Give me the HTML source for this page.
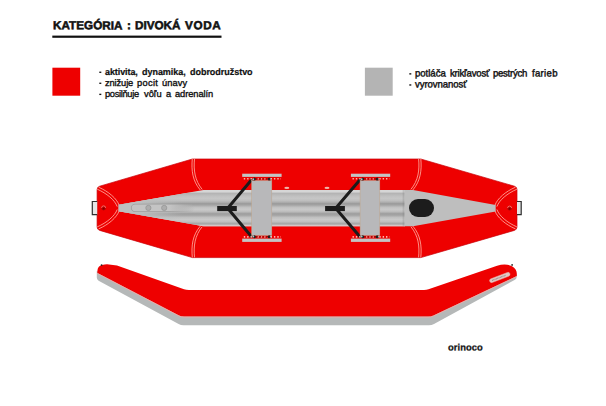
<!DOCTYPE html>
<html><head><meta charset="utf-8">
<style>
html,body{margin:0;padding:0;background:#fff;}
body{width:606px;height:406px;position:relative;overflow:hidden;font-family:"Liberation Sans",sans-serif;color:#111;}
.w{position:absolute;white-space:nowrap;line-height:1;transform-origin:0 84.65%;}
.r{font-size:9.3px;-webkit-text-stroke:0.35px #111;transform:rotate(0.03deg);}
.q{font-size:9.6px;-webkit-text-stroke:0.4px #111;transform:translateY(-0.45px) rotate(0.03deg) scaleY(1.045);}
.b{font-size:9px;font-weight:bold;-webkit-text-stroke:0.2px #111;transform:rotate(0.03deg) scaleY(1.03);}
.h{font-size:11.7px;font-weight:bold;-webkit-text-stroke:0.55px #111;transform:translateY(0.35px) rotate(0.03deg);}
.o{font-size:9.4px;font-weight:bold;-webkit-text-stroke:0.25px #111;transform:translateY(0.5px) rotate(0.03deg);}
svg{position:absolute;left:0;top:0;}
</style></head><body>
<span class="w h" style="left:52.55px;top:19.00px;letter-spacing:0.030px">KATEGÓRIA</span>
<span class="w h" style="left:127.35px;top:19.00px;letter-spacing:0.000px">:</span>
<span class="w h" style="left:135.15px;top:19.00px;letter-spacing:-0.013px">DIVOKÁ</span>
<span class="w h" style="left:185.05px;top:19.00px;letter-spacing:0.674px">VODA</span>
<span class="w o" style="left:448.20px;top:342.04px;letter-spacing:0.054px">orinoco</span>
<span class="w b" style="left:104.69px;top:68.18px;letter-spacing:-0.090px">aktivita,</span>
<span class="w b" style="left:142.19px;top:68.18px;letter-spacing:-0.040px">dynamika,</span>
<span class="w b" style="left:190.29px;top:68.18px;letter-spacing:-0.033px">dobrodružstvo</span>
<span class="w r" style="left:104.76px;top:78.93px;letter-spacing:-0.111px">znižuje</span>
<span class="w r" style="left:136.96px;top:78.93px;letter-spacing:0.312px">pocit</span>
<span class="w r" style="left:162.06px;top:78.93px;letter-spacing:0.069px">únavy</span>
<span class="w r" style="left:104.76px;top:90.03px;letter-spacing:-0.327px">posilňuje</span>
<span class="w r" style="left:143.56px;top:90.03px;letter-spacing:-0.005px">vôľu</span>
<span class="w r" style="left:166.06px;top:90.03px;letter-spacing:0.000px">a</span>
<span class="w r" style="left:174.76px;top:90.03px;letter-spacing:-0.062px">adrenalín</span>
<span class="w q" style="left:414.57px;top:69.27px;letter-spacing:-0.029px">potláča</span>
<span class="w q" style="left:449.67px;top:69.27px;letter-spacing:-0.226px">krikľavosť</span>
<span class="w q" style="left:493.17px;top:69.27px;letter-spacing:-0.286px">pestrých</span>
<span class="w q" style="left:532.07px;top:69.27px;letter-spacing:0.293px">farieb</span>
<span class="w q" style="left:414.57px;top:80.37px;letter-spacing:-0.071px">vyrovnanosť</span>
<svg width="606" height="406" viewBox="0 0 606 406">
<defs>
<linearGradient id="tube" x1="0" y1="0" x2="0" y2="1">
<stop offset="0" stop-color="#909090"/><stop offset="0.1" stop-color="#a6a6a6"/><stop offset="0.3" stop-color="#c0c0c0"/><stop offset="0.5" stop-color="#c9c9c9"/><stop offset="0.7" stop-color="#c0c0c0"/><stop offset="0.9" stop-color="#a6a6a6"/><stop offset="1" stop-color="#909090"/>
</linearGradient>
<linearGradient id="tube1" x1="0" y1="0" x2="0" y2="1">
<stop offset="0" stop-color="#b0b0b0"/><stop offset="0.3" stop-color="#c0c0c0"/><stop offset="0.5" stop-color="#c6c6c6"/><stop offset="0.7" stop-color="#bebebe"/><stop offset="0.9" stop-color="#a6a6a6"/><stop offset="1" stop-color="#909090"/>
</linearGradient>
<linearGradient id="nosefade" x1="0" y1="0" x2="1" y2="0"><stop offset="0" stop-color="#bdbfbf"/><stop offset="0.3" stop-color="#bdbfbf"/><stop offset="0.8" stop-color="#bdbfbf" stop-opacity="0"/></linearGradient>
<linearGradient id="innerfade" x1="0" y1="0" x2="1" y2="0"><stop offset="0" stop-color="#c4c4c4"/><stop offset="0.6" stop-color="#c4c4c4"/><stop offset="1" stop-color="#c4c4c4" stop-opacity="0"/></linearGradient>
<linearGradient id="innershade" x1="0" y1="0" x2="1" y2="0"><stop offset="0" stop-color="#9c9c9c"/><stop offset="0.6" stop-color="#9c9c9c"/><stop offset="1" stop-color="#9c9c9c" stop-opacity="0"/></linearGradient>
<clipPath id="floor">
<path d="M118.7,204.8 L203.5,189.9 L413,189.9 L495.7,204.9 L495.7,211.4 L413,226.2 L203.5,226.2 L118.7,211.3 Z"/>
</clipPath>
</defs>
<!-- dashes -->
<rect x="52.3" y="35.6" width="169.2" height="2.2" fill="#111"/>
<rect x="52.4" y="67.7" width="27.8" height="28" fill="#ee0000"/>
<rect x="364.9" y="67.7" width="27.8" height="28" fill="#b4b4b4"/>
<g id="dashes">
<rect x="99.3" y="71.60" width="2.0" height="1.35" fill="#111"/>
<rect x="99.3" y="82.60" width="2.0" height="1.35" fill="#111"/>
<rect x="99.3" y="93.70" width="2.0" height="1.35" fill="#111"/>
<rect x="409.3" y="73.20" width="2.0" height="1.35" fill="#111"/>
<rect x="409.3" y="84.30" width="2.0" height="1.35" fill="#111"/>
</g>
<!-- top view hull -->
<path d="M97.1,189.6 Q97.1,186.9 99.7,186.2 L192.4,159 L420.8,159 L514.4,186.2 Q517,186.9 517,189.6 L517,226.9 Q517,229.6 514.4,230.4 L420.8,257.6 L192.4,257.6 L99.7,230.4 Q97.1,229.6 97.1,226.9 Z" fill="#ee0000" stroke="#c80008" stroke-width="0.7"/>
<!-- seams -->
<g fill="none" stroke="#ffaa9e" stroke-width="0.85">
<path d="M192.3,158.8 C191.2,170.0 192.5,181.0 200.3,190.0"/>
<path d="M192.3,257.3 C191.2,246.1 192.5,235.1 200.3,226.1"/>
<path d="M194.5,158.8 C193.4,170.0 194.8,180.5 202.2,189.4"/>
<path d="M194.5,257.3 C193.4,246.1 194.8,235.6 202.2,226.7"/>
<path d="M420.8,158.8 C421.9,170.0 420.6,181.0 412.8,190.0"/>
<path d="M420.8,257.3 C421.9,246.1 420.6,235.1 412.8,226.1"/>
<path d="M418.6,158.8 C419.7,170.0 418.3,180.5 410.9,189.4"/>
<path d="M418.6,257.3 C419.7,246.1 418.3,235.6 410.9,226.7"/>
<path d="M98.6,187.2 C108.5,191.5 116.8,198.5 119.2,205.4"/>
<path d="M98.6,228.9 C108.5,224.6 116.8,217.6 119.2,210.7"/>
<path d="M97.2,189.2 C106.8,193.4 114.8,200.0 117.2,206.6"/>
<path d="M97.2,226.9 C106.8,222.7 114.8,216.1 117.2,209.5"/>
<path d="M515.5,187.2 C505.6,191.5 497.3,198.5 494.9,205.4"/>
<path d="M515.5,228.9 C505.6,224.6 497.3,217.6 494.9,210.7"/>
<path d="M516.9,189.2 C507.3,193.4 499.3,200.0 496.9,206.6"/>
<path d="M516.9,226.9 C507.3,222.7 499.3,216.1 496.9,209.5"/>
</g>
<!-- floor -->
<g clip-path="url(#floor)">
<rect x="110" y="189" width="295" height="38" fill="#d6d6d6"/>
<rect x="110" y="192.6" width="295" height="11.6" fill="url(#tube1)"/>
<rect x="110" y="204.2" width="295" height="10.1" fill="url(#tube)"/>
<rect x="110" y="214.3" width="295" height="10.4" fill="url(#tube)"/>
<rect x="110" y="224.7" width="295" height="3" fill="#d4c6c6"/>
<rect x="402.6" y="189" width="2" height="38" fill="#777" opacity="0.25"/>
<rect x="404.5" y="185" width="100" height="45" fill="#bebebe"/>
<rect x="110" y="185" width="90" height="45" fill="url(#nosefade)"/>
</g>
<!-- nose details left -->
<rect x="130.9" y="203.7" width="64" height="8.4" rx="4.2" fill="url(#innershade)"/>
<rect x="131.7" y="204.4" width="63" height="6.8" rx="3.4" fill="url(#innerfade)"/>
<circle cx="148.4" cy="207.9" r="2.6" fill="#adadad" stroke="#979797" stroke-width="0.8"/>
<circle cx="164.2" cy="207.9" r="2.6" fill="#adadad" stroke="#979797" stroke-width="0.8"/>
<!-- little valves -->
<ellipse cx="286.8" cy="187.9" rx="2.5" ry="1.1" fill="#f0b4a8"/>
<ellipse cx="327" cy="187.9" rx="2.5" ry="1.1" fill="#f0b4a8"/>
<rect x="409" y="199" width="25" height="18" rx="9" ry="9" fill="#1c1c1c"/>
<!-- foot braces -->
<g stroke="#1c1c1c" stroke-width="3" fill="none" stroke-linecap="butt" stroke-linejoin="round">
<path d="M252,179.2 L227.7,208.2 L252,237.3"/>
<path d="M360.4,179.2 L335.7,208.2 L360.4,237.3"/>
</g>
<rect x="217.2" y="206" width="19.6" height="5.1" fill="#1c1c1c"/>
<rect x="325.1" y="206" width="19.8" height="5.1" fill="#1c1c1c"/>
<!-- seats -->
<rect x="242.2" y="173.7" width="39.4" height="3.2" fill="#c4c4c4"/>
<rect x="242.2" y="238.6" width="39.4" height="3.3" fill="#c4c4c4"/>
<line x1="243.79999999999998" y1="178.8" x2="281.0" y2="178.8" stroke="#ffb4ac" stroke-width="1.6" stroke-dasharray="1.4 1.95"/>
<line x1="243.79999999999998" y1="236.9" x2="281.0" y2="236.9" stroke="#ffb4ac" stroke-width="1.6" stroke-dasharray="1.4 1.95"/>
<rect x="251.7" y="180.6" width="20.1" height="54.8" fill="#b8b8ba" stroke="#bfa58c" stroke-width="0.5"/>
<line x1="253.7" y1="178.9" x2="269.8" y2="178.9" stroke="#b00000" stroke-width="1.5"/>
<line x1="257.7" y1="178.9" x2="265.8" y2="178.9" stroke="#ffb0a8" stroke-width="1.2" stroke-dasharray="1.2 2.1"/>
<circle cx="254.29999999999998" cy="178.9" r="1.5" fill="#1e1e1e"/><circle cx="269.2" cy="178.9" r="1.5" fill="#1e1e1e"/>
<circle cx="253.29999999999998" cy="179.20000000000002" r="0.9" fill="#9cc"/><circle cx="270.6" cy="178.9" r="0.7" fill="#9cc"/>
<line x1="253.7" y1="236.8" x2="269.8" y2="236.8" stroke="#b00000" stroke-width="1.5"/>
<line x1="257.7" y1="236.8" x2="265.8" y2="236.8" stroke="#ffb0a8" stroke-width="1.2" stroke-dasharray="1.2 2.1"/>
<circle cx="254.29999999999998" cy="236.8" r="1.5" fill="#1e1e1e"/><circle cx="269.2" cy="236.8" r="1.5" fill="#1e1e1e"/>
<circle cx="253.29999999999998" cy="236.5" r="0.9" fill="#9cc"/><circle cx="270.6" cy="236.8" r="0.7" fill="#9cc"/>
<rect x="350.9" y="173.7" width="39.3" height="3.2" fill="#c4c4c4"/>
<rect x="350.9" y="238.6" width="39.3" height="3.3" fill="#c4c4c4"/>
<line x1="352.5" y1="178.8" x2="389.59999999999997" y2="178.8" stroke="#ffb4ac" stroke-width="1.6" stroke-dasharray="1.4 1.95"/>
<line x1="352.5" y1="236.9" x2="389.59999999999997" y2="236.9" stroke="#ffb4ac" stroke-width="1.6" stroke-dasharray="1.4 1.95"/>
<rect x="360.1" y="180.6" width="19.7" height="54.8" fill="#b8b8ba" stroke="#bfa58c" stroke-width="0.5"/>
<line x1="362.1" y1="178.9" x2="377.8" y2="178.9" stroke="#b00000" stroke-width="1.5"/>
<line x1="366.1" y1="178.9" x2="373.8" y2="178.9" stroke="#ffb0a8" stroke-width="1.2" stroke-dasharray="1.2 2.1"/>
<circle cx="362.70000000000005" cy="178.9" r="1.5" fill="#1e1e1e"/><circle cx="377.2" cy="178.9" r="1.5" fill="#1e1e1e"/>
<circle cx="361.70000000000005" cy="179.20000000000002" r="0.9" fill="#9cc"/><circle cx="378.6" cy="178.9" r="0.7" fill="#9cc"/>
<line x1="362.1" y1="236.8" x2="377.8" y2="236.8" stroke="#b00000" stroke-width="1.5"/>
<line x1="366.1" y1="236.8" x2="373.8" y2="236.8" stroke="#ffb0a8" stroke-width="1.2" stroke-dasharray="1.2 2.1"/>
<circle cx="362.70000000000005" cy="236.8" r="1.5" fill="#1e1e1e"/><circle cx="377.2" cy="236.8" r="1.5" fill="#1e1e1e"/>
<circle cx="361.70000000000005" cy="236.5" r="0.9" fill="#9cc"/><circle cx="378.6" cy="236.8" r="0.7" fill="#9cc"/>
<!-- handles -->
<path d="M97.2,201.5 L92.3,201.5 L92.3,214.7 L97.2,214.7" fill="#e6e6e6" stroke="#2e2e2e" stroke-width="1.2"/>
<path d="M517,201.5 L521.2,201.5 L521.2,214.7 L517,214.7" fill="#e6e6e6" stroke="#2e2e2e" stroke-width="1.2"/>
<circle cx="103.6" cy="208.1" r="2.3" fill="#b40000"/><path d="M101.6,207.9 A2,2 0 0 1 105.6,207.9" stroke="#ff8a80" stroke-width="0.8" fill="none"/><circle cx="103.6" cy="208.6" r="0.9" fill="#7a0000"/>
<circle cx="509.6" cy="208.3" r="2.3" fill="#b40000"/><path d="M507.6,208.1 A2,2 0 0 1 511.6,208.1" stroke="#ff8a80" stroke-width="0.8" fill="none"/><circle cx="509.6" cy="208.8" r="0.9" fill="#7a0000"/>
<!-- side view -->
<path d="M96.8,271 L96.8,277.6 Q96.8,279.6 98.6,280.7 L178.6,324 Q180.8,325.2 183.5,325.2 L429,325.2 Q431.7,325.2 434,323.9 L515,279.8 Q516.6,279 516.6,277 L516.6,274 L433,312 L180,312 L97,271 Z" fill="#b5b8b8"/>
<path d="M97.4,271 Q97.6,266 102,264.9 Q105.5,264.1 109,264.4 Q113,264.8 117,265.6 L184,289.3 Q186,289.9 189,289.9 L424,289.9 Q426.5,289.9 428.5,289.2 L497.1,265.8 Q501,264.6 504.5,264.6 Q509,264.6 512,266.2 Q516.8,269 516.8,273.5 L516.8,276 L433.5,315.4 Q431,316.6 428,316.6 L184,316.5 Q181,316.5 179,315.4 L97.4,272.9 Z" fill="#ee0000"/>
<path d="M97.4,273.4 L179,315.9 Q181,317 184,317 L428,317.1 Q431,317.1 433.5,315.9 L516.8,276.5" fill="none" stroke="#f6aaa4" stroke-width="0.8"/>
<g transform="rotate(-21 499.8 277.5)"><rect x="489" y="275.5" width="21.6" height="4" rx="2" fill="#e0c8c4" stroke="#f0a8a0" stroke-width="0.4"/><line x1="491.5" y1="277.5" x2="506" y2="277.5" stroke="#9a8a88" stroke-width="1.2" stroke-dasharray="0.9 0.5"/></g>
<circle cx="101.6" cy="265.1" r="0.9" fill="#222"/>
<circle cx="512.1" cy="264.9" r="0.9" fill="#222"/>
</svg>
</body></html>
